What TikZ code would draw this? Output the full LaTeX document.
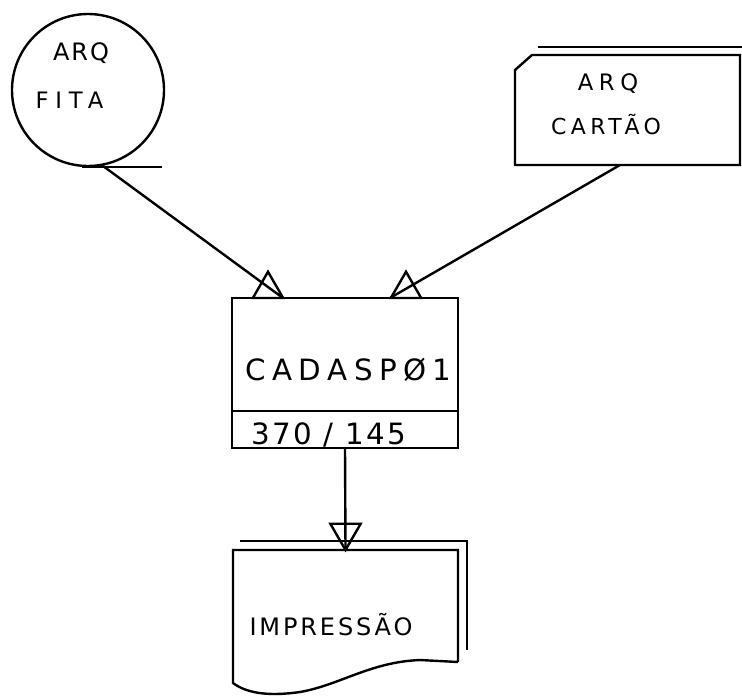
\documentclass[tikz,border=0pt]{standalone}
\usepackage{fontspec}
\setmainfont{DejaVu Sans}
\newfontfamily\handfont{DejaVu Sans}
\newcommand{\hw}[2]{\handfont\fontsize{#1}{#1}\selectfont\addfontfeatures{LetterSpace=#2}}
\usetikzlibrary{positioning,shapes.geometric}

\begin{document}
\begin{tikzpicture}[x=0.75pt,y=0.75pt,yscale=-1,xscale=1,line width=1.8pt,
    box/.style={draw, rectangle, inner sep=0pt, outer sep=0pt, minimum width=226*0.75pt},
    tri/.style={draw, regular polygon, regular polygon sides=3, minimum size=35*0.75pt, inner sep=0pt, outer sep=0pt, anchor=side 2},
    lbl/.style={inner sep=0pt}]
        \useasboundingbox (0,0) rectangle (742,696);

        %Shapes
        \node [draw, circle, minimum size=152*0.75pt, inner sep=0pt] (fita) at (88,90) {};
        \node [rectangle, inner sep=0pt, outer sep=0pt, minimum width=225*0.75pt, minimum height=110*0.75pt] (cartao) at (627.5,110) {};
        \node [box, minimum height=113*0.75pt] (proc) at (345,354.5) {};
        \node [box, minimum height=37*0.75pt, below=0pt of proc] (num) {};
        \node [rectangle, inner sep=0pt, outer sep=0pt, minimum width=225*0.75pt, minimum height=112*0.75pt] (doc) at (345.5,606) {};

        %Tape mark
        \draw ([shift={(-6,0)}]fita.south) -- ++(80,0);
        %Card
        \draw (cartao.south west) -- ++(0,-95) -- ++(17,-15) -- (cartao.north east) -- (cartao.south east) -- cycle;
        \draw (cartao.south east) ++(2,-118) -- ++(-204,0);
        %Document
        \draw (doc.south east) -- (doc.north east) -- (doc.north west) -- ++(0,133) .. controls (245,692) and (265,697) .. (300,692) .. controls (340,685) and (370,662) .. (420,660) -- (doc.south east);
        \draw ([shift={(-218,-9)}]doc.north east) -- ++(227,0) -- ++(0,109);

        %Connectors
        \draw (fita.-79) -- ([shift={(51,0)}]proc.north west);
        \draw ([shift={(-7.5,0)}]cartao.south) -- ([shift={(158,0)}]proc.north west);
        \draw (num.south) -- (doc.north);
        \node [tri] (tl) at ([shift={(36,0)}]proc.north west) {};
        \node [tri] (tr) at ([shift={(174,0)}]proc.north west) {};
        \node [tri, shape border rotate=180, anchor=corner 1] (tb) at (doc.north) {};

        % Text Node
        \node [lbl, font={\hw{18}{8}}] (t1) at (81,53) {ARQ};
        % Text Node
        \node [lbl, font={\hw{17}{30}}] (t2) at (69.5,100) {FITA};
        % Text Node
        \node [lbl, font={\hw{17}{25}}] (t3) at (608,84) {ARQ};
        % Text Node
        \node [lbl, font={\hw{16.5}{20}}] (t4) at (606,125) {CARTÃO};
        % Text Node
        \node [lbl, font={\hw{22}{22}}] (t5) at (348.5,370) {CADASPØ1};
        % Text Node
        \node [lbl, font={\hw{22}{8}}] (t6) at (328.5,435) {370 / 145};
        % Text Node
        \node [lbl, font={\hw{18}{12}}] (t7) at (331,625) {IMPRESSÃO};

    \end{tikzpicture}
\end{document}
